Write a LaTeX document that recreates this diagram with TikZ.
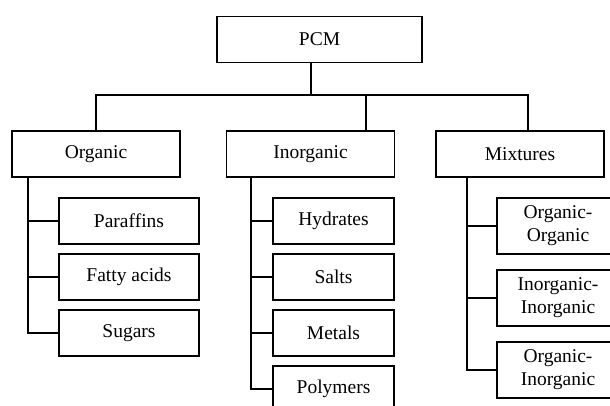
\documentclass[tikz,border=0pt]{standalone}
\usepackage{fontspec}
\setmainfont{Liberation Serif}
\usepackage{tikz}
\usetikzlibrary{calc}

\begin{document}
\begin{tikzpicture}[x=0.5pt, y=-0.5pt,
    box/.style={draw, line width=0.6pt, inner sep=0pt, align=center,
      font=\fontsize{9.75}{11.5}\selectfont, minimum height=23pt},
    topbox/.style={box, minimum width=102.5pt},
    classbox/.style={box, minimum width=84pt},
    orgbox/.style={box, minimum width=70pt},
    inobox/.style={box, minimum width=60.5pt},
    mixbox/.style={box, minimum width=61pt, minimum height=28pt},
    link/.style={line width=0.6pt}]
  \useasboundingbox (0,0) rectangle (610,406);
  % root and the three classes
  \node[topbox]   (pcm)       at (319.5,39.5) {PCM};
  \node[classbox] (organic)   at (96,154)     {Organic};
  \node[classbox] (inorganic) at (310.5,154)  {Inorganic};
  \node[classbox] (mixtures)  at (520,154)    {Mixtures};
  % organic materials
  \node[orgbox] (paraffins) at (129,221) {Paraffins};
  \node[orgbox] (fatty)     at (129,277) {Fatty acids};
  \node[orgbox] (sugars)    at (129,333) {Sugars};
  % inorganic materials
  \node[inobox] (hydrates) at (333.5,221) {Hydrates};
  \node[inobox] (salts)    at (333.5,277) {Salts};
  \node[inobox] (metals)   at (333.5,333) {Metals};
  \node[inobox] (polymers) at (333.5,389) {Polymers};
  % mixtures
  \node[mixbox] (orgorg) at (558,226) {Organic-\\Organic};
  \node[mixbox] (inoino) at (558,298) {Inorganic-\\Inorganic};
  \node[mixbox] (orgino) at (558,370) {Organic-\\Inorganic};
  % bus from the root
  \coordinate (bus) at (0,95);
  \coordinate (pcmdrop) at ([xshift=-4.25pt]pcm.south);
  \coordinate (inodrop) at ([xshift=27.75pt]inorganic.north);
  \coordinate (mixdrop) at ([xshift=4pt]mixtures.north);
  \draw[link] (pcmdrop) -- (pcmdrop |- bus);
  \draw[link] (organic.north) |- (mixdrop |- bus) -- (mixdrop);
  \draw[link] (inodrop) -- (inodrop |- bus);
  % trunks and branches
  \coordinate (orgtrunk) at ([xshift=-34pt]organic.south);
  \coordinate (inotrunk) at ([xshift=-29.75pt]inorganic.south);
  \coordinate (mixtrunk) at ([xshift=-26.5pt]mixtures.south);
  \draw[link] (orgtrunk) |- (sugars.west);
  \draw[link] (inotrunk) |- (polymers.west);
  \draw[link] (mixtrunk) |- (orgino.west);
  \foreach \n in {paraffins,fatty}
    \draw[link] (\n.west) -- (\n.west -| orgtrunk);
  \foreach \n in {hydrates,salts,metals}
    \draw[link] (\n.west) -- (\n.west -| inotrunk);
  \foreach \n in {orgorg,inoino}
    \draw[link] (\n.west) -- (\n.west -| mixtrunk);
\end{tikzpicture}
\end{document}
